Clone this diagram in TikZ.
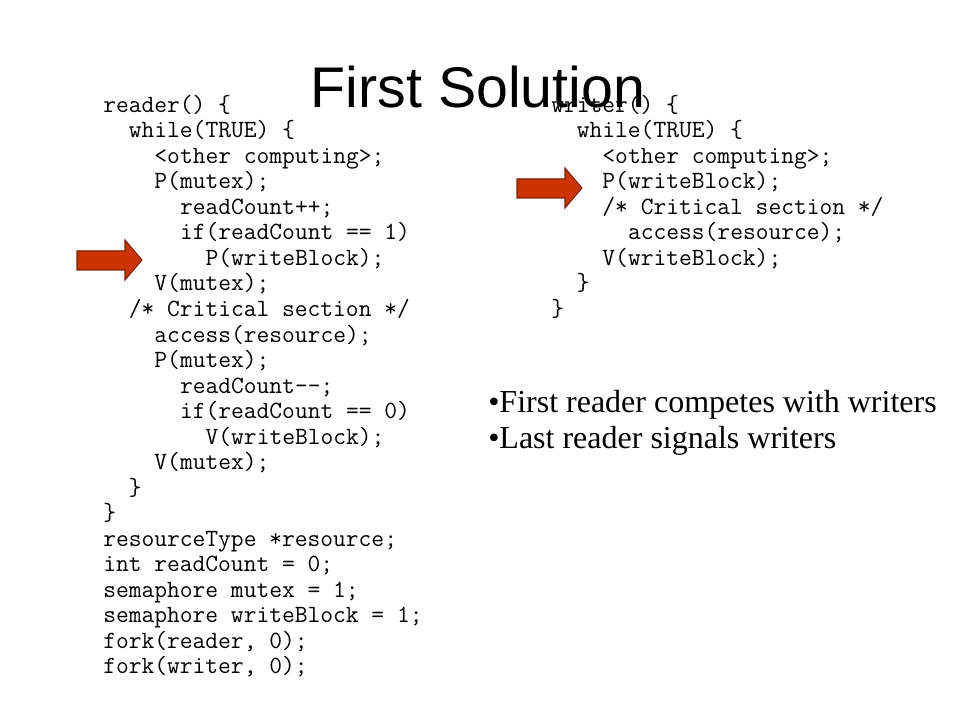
\documentclass[tikz,border=0pt]{standalone}
\usepackage{fontspec}
\setmainfont{Liberation Serif}
\setsansfont{Liberation Sans}
\definecolor{arrowfill}{RGB}{204,51,0}
\definecolor{arrowline}{RGB}{120,36,0}
\newcommand\rline[3]{\node[codeline] (r#1) at ({103+12.8*#2},{112.5+25.5*#1}) {#3};}
\newcommand\wline[3]{\node[codeline] (w#1) at ({551+12.8*#2},{112.5+25.5*#1}) {#3};}
\begin{document}
\begin{tikzpicture}[x=0.75pt,y=-0.75pt,
  codeline/.style={anchor=base west, inner sep=0pt, font=\fontsize{18.6}{22}\ttfamily},
  bullettext/.style={anchor=base west, inner sep=0pt, font=\fontsize{24}{29}\rmfamily},
  blockarrow/.style={fill=arrowfill, draw=arrowline, line width=0.8pt, line join=miter}]
\useasboundingbox (0,0) rectangle (960,720);
\fill[white] (0,0) rectangle (960,720);
% reader code
\rline{0}{0}{reader() \{}
\rline{1}{2}{while(TRUE) \{}
\rline{2}{4}{<other computing>;}
\rline{3}{4}{P(mutex);}
\rline{4}{6}{readCount++;}
\rline{5}{6}{if(readCount == 1)}
\rline{6}{8}{P(writeBlock);}
\rline{7}{4}{V(mutex);}
\rline{8}{2}{/* Critical section */}
\rline{9}{4}{access(resource);}
\rline{10}{4}{P(mutex);}
\rline{11}{6}{readCount-{}-;}
\rline{12}{6}{if(readCount == 0)}
\rline{13}{8}{V(writeBlock);}
\rline{14}{4}{V(mutex);}
\rline{15}{2}{\}}
\rline{16}{0}{\}}
\rline{17}{0}{resourceType *resource;}
\rline{18}{0}{int readCount = 0;}
\rline{19}{0}{semaphore mutex = 1;}
\rline{20}{0}{semaphore writeBlock = 1;}
\rline{21}{0}{fork(reader, 0);}
\rline{22}{0}{fork(writer, 0);}
% writer code
\wline{0}{0}{writer() \{}
\wline{1}{2}{while(TRUE) \{}
\wline{2}{4}{<other computing>;}
\wline{3}{4}{P(writeBlock);}
\wline{4}{4}{/* Critical section */}
\wline{5}{6}{access(resource);}
\wline{6}{4}{V(writeBlock);}
\wline{7}{2}{\}}
\wline{8}{0}{\}}
% arrows
\draw[blockarrow] (77,251) -- (125,251) -- (125,240) -- (142,260) -- (125,280) -- (125,270) -- (77,270) -- cycle;
\draw[blockarrow] (517,179) -- (565,179) -- (565,168) -- (582,188) -- (565,208) -- (565,198) -- (517,198) -- cycle;
% title
\node[anchor=base, inner sep=0pt, font=\fontsize{43}{50}\sffamily] (title) at (478,108) {First Solution};
% bullets
\node[bullettext] (b1) at (488,412) {•First reader competes with writers};
\node[bullettext] (b2) at (488,448) {•Last reader signals writers};
\end{tikzpicture}
\end{document}
